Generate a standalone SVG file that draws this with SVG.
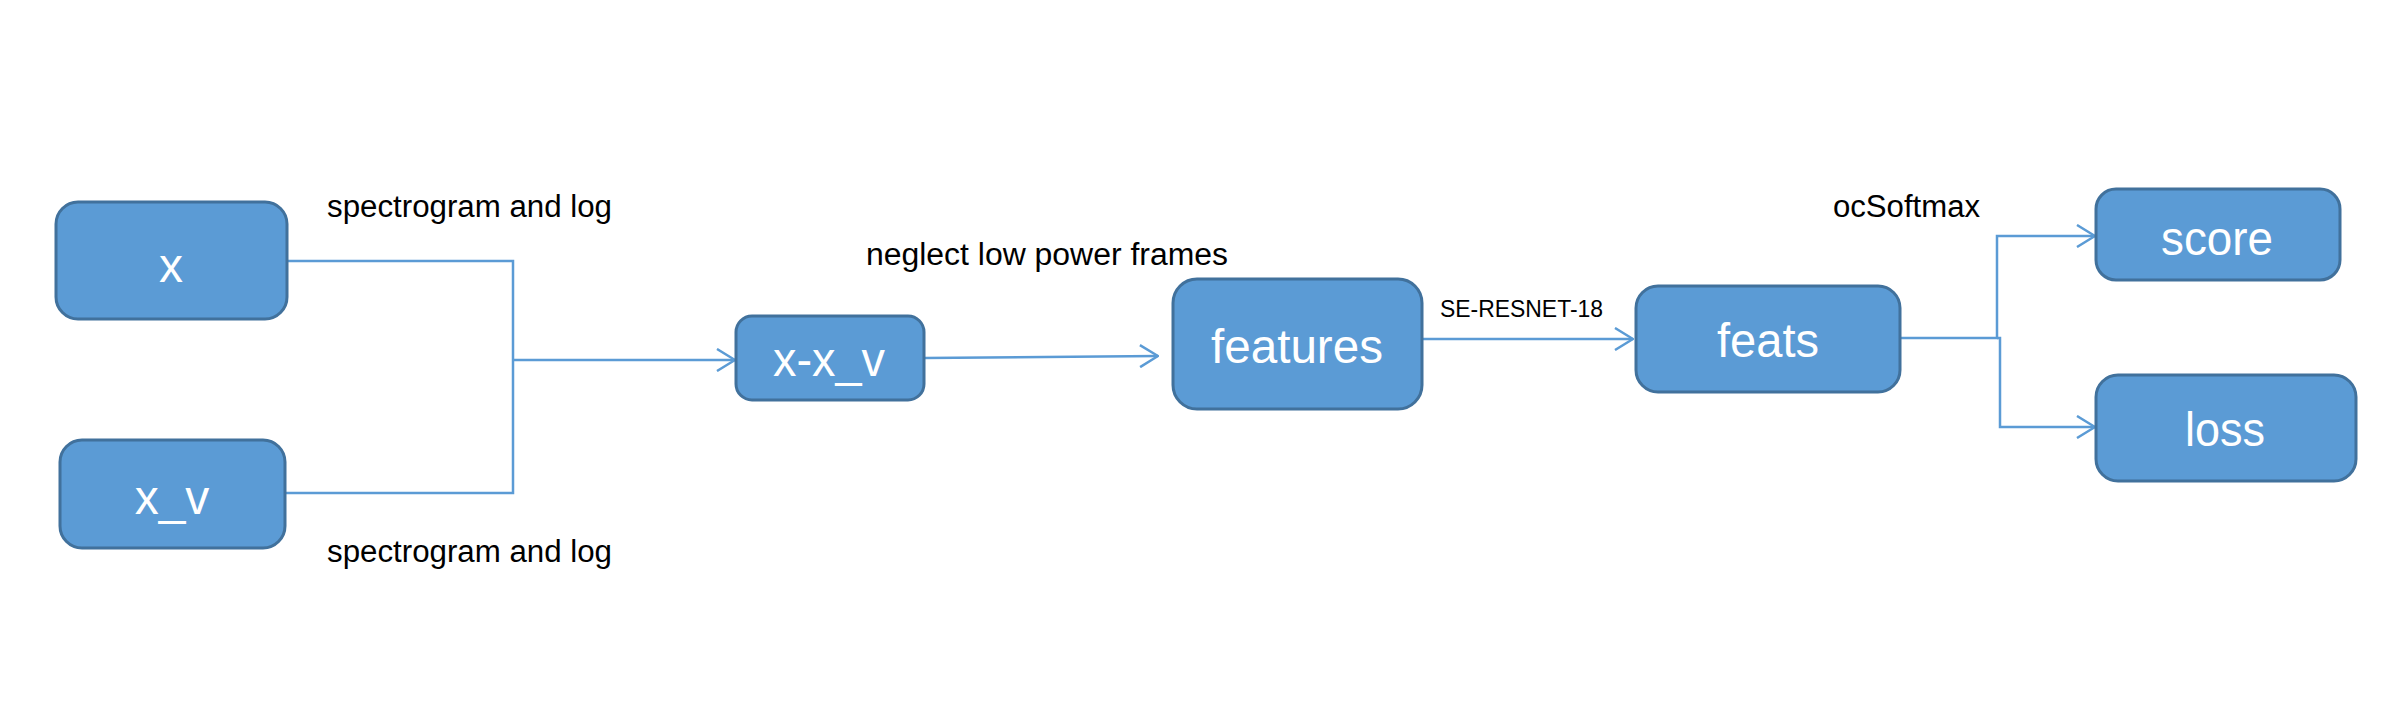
<svg xmlns="http://www.w3.org/2000/svg" width="2404" height="717" viewBox="0 0 2404 717">
<style>
.node rect{fill:#5B9BD5;stroke:#41719C;stroke-width:3}
.node text{fill:#FFFFFF;font-family:"Liberation Sans",Arial,sans-serif;font-size:48px;text-anchor:middle;dominant-baseline:central}
.lbl{fill:#000000;font-family:"Liberation Sans",Arial,sans-serif;font-size:31px}
.conn path{fill:none;stroke:#5B9BD5;stroke-width:2.5}
</style>
<defs>
<marker id="arr" viewBox="0 0 20 24" refX="19" refY="12" markerWidth="20" markerHeight="24" markerUnits="userSpaceOnUse" orient="auto">
<path d="M1,1 L19,12 L1,23" fill="none" stroke="#5B9BD5" stroke-width="2.5"/>
</marker>
</defs>
<rect width="2404" height="717" fill="#FFFFFF"/>
<g id="connectors" class="conn">
<path d="M287,261 H513 V360"/>
<path d="M285,493 H513 V360"/>
<path d="M513,360 H735" marker-end="url(#arr)"/>
<path d="M924,358 L1158,356" marker-end="url(#arr)"/>
<path d="M1422,339 H1633" marker-end="url(#arr)"/>
<path d="M1900,338 H1997 V236 H2095" marker-end="url(#arr)"/>
<path d="M1997,338 H2000 V427 H2095" marker-end="url(#arr)"/>
</g>
<g id="node-x" class="node"><rect x="56" y="202" width="231" height="117" rx="22"/><text x="171" y="265">x</text></g>
<g id="node-x_v" class="node"><rect x="60" y="440" width="225" height="108" rx="22"/><text x="172" y="497">x_v</text></g>
<g id="node-x-x_v" class="node"><rect x="736" y="316" width="188" height="84" rx="16"/><text x="829" y="359" textLength="112" lengthAdjust="spacingAndGlyphs">x-x_v</text></g>
<g id="node-features" class="node"><rect x="1173" y="279" width="249" height="130" rx="24"/><text x="1297" y="346" textLength="172" lengthAdjust="spacingAndGlyphs">features</text></g>
<g id="node-feats" class="node"><rect x="1636" y="286" width="264" height="106" rx="22"/><text x="1768" y="340" textLength="102" lengthAdjust="spacingAndGlyphs">feats</text></g>
<g id="node-score" class="node"><rect x="2096" y="189" width="244" height="91" rx="20"/><text x="2217" y="238" textLength="112" lengthAdjust="spacingAndGlyphs">score</text></g>
<g id="node-loss" class="node"><rect x="2096" y="375" width="260" height="106" rx="22"/><text x="2225" y="429" textLength="80" lengthAdjust="spacingAndGlyphs">loss</text></g>
<g id="labels">
<text class="lbl" x="327" y="217" textLength="285" lengthAdjust="spacingAndGlyphs">spectrogram and log</text>
<text class="lbl" x="327" y="562" textLength="285" lengthAdjust="spacingAndGlyphs">spectrogram and log</text>
<text class="lbl" x="866" y="265" textLength="362" lengthAdjust="spacingAndGlyphs">neglect low power frames</text>
<text class="lbl" x="1440" y="317" style="font-size:24px" textLength="163" lengthAdjust="spacingAndGlyphs">SE-RESNET-18</text>
<text class="lbl" x="1833" y="217" textLength="147" lengthAdjust="spacingAndGlyphs">ocSoftmax</text>
</g>
</svg>
